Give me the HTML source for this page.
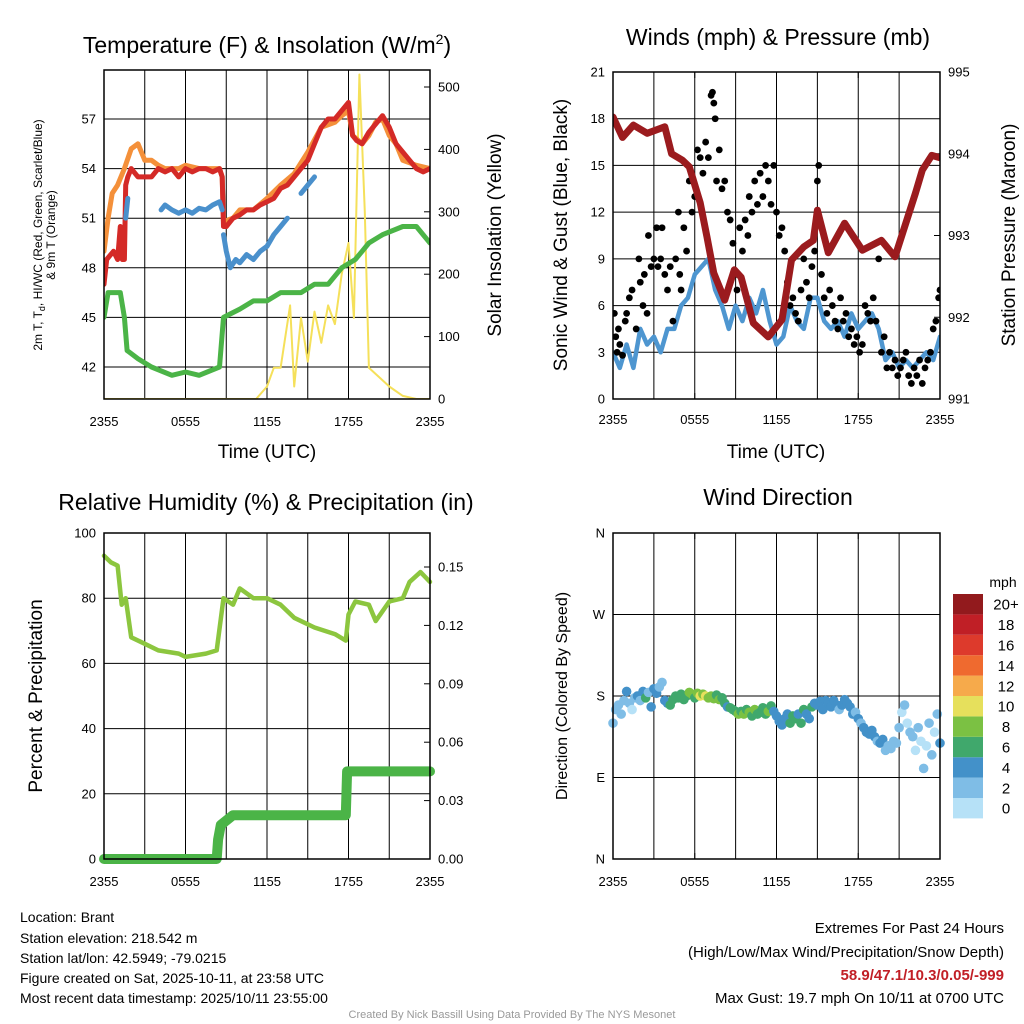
<!DOCTYPE html>
<html><head><meta charset="utf-8"><style>
html,body{margin:0;padding:0;background:#fff;width:1024px;height:1024px;overflow:hidden}
svg{display:block;font-family:"Liberation Sans",Arial,sans-serif}
</style></head><body>
<svg id="root" width="1024" height="1024" viewBox="0 0 1024 1024" xmlns="http://www.w3.org/2000/svg">
<g id="layer"></g>
<text x="267" y="53" font-size="23" text-anchor="middle">Temperature (F) &amp; Insolation (W/m<tspan dy="-9" font-size="14">2</tspan><tspan dy="9">)</tspan></text>
<text x="778" y="45" font-size="23" text-anchor="middle">Winds (mph) &amp; Pressure (mb)</text>
<text x="266" y="510" font-size="23" text-anchor="middle">Relative Humidity (%) &amp; Precipitation (in)</text>
<text x="778" y="505" font-size="23" text-anchor="middle">Wind Direction</text>
<text transform="translate(42,235) rotate(-90)" font-size="12" text-anchor="middle">2m T, T<tspan dy="3" font-size="9">d</tspan><tspan dy="-3">, HI/WC (Red, Green, Scarlet/Blue)</tspan></text>
<text transform="translate(55,235) rotate(-90)" font-size="12" text-anchor="middle">&amp; 9m T (Orange)</text>
<text transform="translate(501,235) rotate(-90)" font-size="19" text-anchor="middle">Solar Insolation (Yellow)</text>
<text x="267" y="458" font-size="19" text-anchor="middle">Time (UTC)</text>
<text x="776" y="458" font-size="19" text-anchor="middle">Time (UTC)</text>
<text transform="translate(567,235) rotate(-90)" font-size="19" text-anchor="middle">Sonic Wind &amp; Gust (Blue, Black)</text>
<text transform="translate(1015,235) rotate(-90)" font-size="19" text-anchor="middle">Station Pressure (Maroon)</text>
<text transform="translate(42,696) rotate(-90)" font-size="19" text-anchor="middle">Percent &amp; Precipitation</text>
<text transform="translate(567,696) rotate(-90)" font-size="16" text-anchor="middle">Direction (Colored By Speed)</text>
<text x="1003" y="587" font-size="14" text-anchor="middle">mph</text>
<g font-size="14">
<text x="20" y="922">Location: Brant</text>
<text x="20" y="943">Station elevation: 218.542 m</text>
<text x="20" y="963">Station lat/lon: 42.5949; -79.0215</text>
<text x="20" y="983">Figure created on Sat, 2025-10-11, at 23:58 UTC</text>
<text x="20" y="1003">Most recent data timestamp: 2025/10/11 23:55:00</text>
</g>
<g font-size="15" text-anchor="end">
<text x="1004" y="933">Extremes For Past 24 Hours</text>
<text x="1004" y="957">(High/Low/Max Wind/Precipitation/Snow Depth)</text>
<text x="1004" y="980" fill="#c11f26" font-weight="bold">58.9/47.1/10.3/0.05/-999</text>
<text x="1004" y="1003">Max Gust: 19.7 mph On 10/11 at 0700 UTC</text>
</g>
<text x="512" y="1018" font-size="11" fill="#999" text-anchor="middle">Created By Nick Bassill Using Data Provided By The NYS Mesonet</text>
</svg>
<script>
// ---- Temperature panel data ----
const redT=[0,0.2,0.4,0.7,1.0,1.2,1.35,1.5,1.6,1.75,2.0,2.5,3.0,3.5,4.0,4.5,5.0,5.5,6.0,6.5,7.0,7.5,8.0,8.5,8.7,8.8,9.0,9.5,10,10.5,11,11.5,12,12.5,13,13.5,14,14.5,15,15.5,16,16.5,17,17.5,18,18.3,18.6,19,19.5,20,20.5,21,21.5,22,22.5,23,23.5,24];
const redV=[47,48.5,48.7,49,48.5,50.5,48.5,48.5,53,53.5,54,53.5,53.5,53.5,54,53.8,54,53.5,54,53.8,54,54,53.8,54,53.5,50.5,50.5,51,51.2,51.5,51.5,51.8,52,52.2,52.8,53,53.5,54,54.5,55.5,56.5,57,57,57.5,58,56,55.7,55.5,56.2,56.7,57.2,56.5,55.5,55,54.5,54,53.8,54];
const orT=[0,0.3,0.6,1.0,1.5,2.0,2.5,3.0,3.5,4.0,4.5,5,5.5,6,7,8,8.5,8.7,8.8,9.5,10,11,12,13,14,15,16,17,17.5,18,18.3,19,19.5,20,20.5,21,21.5,22,23,24];
const orV=[49,51,52.5,53,54,55.2,55.5,54.5,54.5,54.2,54,54,54,54.2,54,54,54,53.5,50.8,51,51.5,51.5,52.2,53,53.7,55,56.5,56.8,57.2,57.5,56,55.5,56,56.8,57,56,55.5,54.5,54.2,54];
const hiT=[1.6,1.75,null,4.2,4.5,5,5.5,6,6.5,7,7.5,8,8.5,8.7,null,8.8,9,9.3,9.7,10,10.5,11,11.5,12,12.5,13,13.5,null,14.5,15,15.5];
const hiV=[51,52.2,null,51.5,51.8,51.5,51.3,51.5,51.3,51.6,51.5,51.8,52,51.5,null,50,49,48,48.5,48.3,48.8,48.5,49,49.3,50,50.5,51,null,52.5,53,53.5];
const tdT=[0,0.3,1.2,1.5,1.7,2.5,3.5,5,6,7,8.5,8.8,10,11,12,13,14.5,15.5,16.5,17.5,18.5,19,19.5,20.5,22,23,24];
const tdV=[45,46.5,46.5,45,43,42.5,42,41.5,41.7,41.5,42,45,45.5,46,46,46.5,46.5,47,47,48,48.5,49,49.5,50,50.5,50.5,49.5];
const solT=[0,11.2,12,12.5,13,13.7,14,14.5,15,15.5,16,16.5,17,17.5,18,18.4,18.8,19.2,19.5,20,21,22,23,24];
const solV=[0,0,20,50,50,150,20,130,60,140,90,150,120,200,250,130,520,300,50,40,20,5,0,0];
// ---- Winds panel data ----
const windV=[3,2,3.5,2,4.5,3.5,4,3,4.5,4.5,6,6.5,8,8.5,9,7,6,4.5,6,5,6.5,5.5,7,5,3.5,4,6,5,4.5,6.5,6.5,5,4.5,5,4,5.5,4.5,5,5.5,4.5,2.5,3,2,2.5,2,2.5,3,2.5,4];
const presT=[0,0.7,1.5,2.5,3.8,4.3,5.1,5.6,6.4,6.9,7.4,8.2,8.9,9.4,10.3,11.4,12.4,13.1,14,14.7,15,15.8,17,18.3,19.7,20.7,22.2,22.7,23.4,24];
const presV=[994.45,994.2,994.35,994.25,994.33,994.0,993.92,993.84,993.4,992.98,992.54,992.21,992.58,992.49,991.93,991.76,991.97,992.7,992.86,992.94,993.31,992.79,993.15,992.82,992.94,992.74,993.52,993.8,993.98,993.95];
const gustH=[0.1,0.2,0.3,0.4,0.5,0.7,0.9,1.0,1.2,1.4,1.7,1.9,2.0,2.2,2.3,2.5,2.6,2.8,3.0,3.2,3.3,3.5,3.6,3.8,4.0,4.2,4.4,4.6,4.8,4.9,5.0,5.2,5.4,5.6,5.8,6.0,6.2,6.4,6.6,6.8,7.0,7.2,7.3,7.4,7.5,7.6,7.8,8.0,8.2,8.4,8.6,8.8,9.0,9.1,9.3,9.5,9.7,9.9,10.0,10.2,10.4,10.6,10.8,11.0,11.2,11.4,11.6,11.8,12.0,12.2,12.4,12.6,12.8,13.0,13.2,13.4,13.6,13.8,14.0,14.2,14.4,14.6,14.8,15.0,15.1,15.3,15.5,15.7,15.9,16.1,16.3,16.5,16.7,16.9,17.1,17.3,17.5,17.7,17.9,18.1,18.3,18.5,18.7,18.9,19.1,19.3,19.5,19.7,19.9,20.1,20.3,20.5,20.7,20.9,21.1,21.3,21.5,21.7,21.9,22.1,22.3,22.5,22.7,22.9,23.1,23.3,23.5,23.7,23.9,24.0];
const gustV=[5.5,4,3,4.5,3.5,2.8,5,5.5,6.5,7,4.5,9,7.5,6,8,5.5,10.5,8.5,9,11,8.5,9,11,8,7,8.5,5,9,12,8,7,11,9.5,14,12,13,16,15.5,14.5,16.5,15.5,19.5,19.7,19,18,14,16,13.5,14,12,11.5,10,8,7,11,9.5,11.5,10.5,13,12,14,12.5,14.5,13,15,14,12.5,15,12,10.5,11,9.5,7.5,6,6.5,5.5,5,7,9,7.5,6.5,8.5,9.5,14,15,8,6.5,5.5,7,6,5,4.5,6.5,5,5.5,4,4.5,3.5,4,3,3.5,6,5.5,5,6.5,5,9,3,4,2,3,2,2.5,1.5,2,2.5,3,1.5,1,2,1.5,2.5,1,2,2.5,3,4.5,5,6.5,7];
// ---- Humidity panel data ----
const rhT=[0,0.5,1,1.3,1.6,2,3,4,5.5,6,7.5,8.3,8.8,9.5,10,11,12,13,14,15.5,17,17.8,18,18.5,19.5,20,21,22,22.5,23.3,24];
const rhV=[93,91,90,78,80,68,66,64,63,62,63,64,80,78,83,80,80,78,74,71,69,67,75,79,78,73,79,80,85,88,85];
const prT=[0,8.3,8.4,8.6,9.5,17.8,17.9,24];
const prV=[0,0,0.01,0.0175,0.0225,0.0225,0.045,0.045];
// ---- Wind direction data ----
const dirH=[0,0.2,0.4,0.6,0.8,1.0,1.2,1.4,1.6,1.8,2.0,2.2,2.4,2.6,2.8,3.0,3.2,3.4,3.6,3.8,4.0,4.2,4.4,4.6,4.8,5.0,5.2,5.4,5.6,5.8,6.0,6.2,6.4,6.6,6.8,7.0,7.2,7.4,7.6,7.8,8.0,8.2,8.4,8.6,8.8,9.0,9.2,9.4,9.6,9.8,10.0,10.2,10.4,10.6,10.8,11.0,11.2,11.4,11.6,11.8,12.0,12.2,12.4,12.6,12.8,13.0,13.2,13.4,13.6,13.8,14.0,14.2,14.4,14.6,14.8,15.0,15.2,15.4,15.6,15.8,16.0,16.2,16.4,16.6,16.8,17.0,17.2,17.4,17.6,17.8,18.0,18.2,18.4,18.6,18.8,19.0,19.2,19.4,19.6,19.8,20.0,20.2,20.4,20.6,20.8,21.0,21.2,21.4,21.6,21.8,22.0,22.2,22.4,22.6,22.8,23.0,23.2,23.4,23.6,23.8,24.0];
const dirD=[150,165,170,160,175,185,172,165,178,180,175,185,178,184,168,188,183,190,195,175,172,170,176,180,178,182,176,180,184,182,178,183,180,182,180,178,180,177,181,176,178,172,168,167,165,163,160,163,160,165,162,158,165,160,162,167,160,163,169,163,158,152,148,155,160,150,158,155,160,150,165,160,155,168,172,170,174,165,175,172,168,175,170,165,170,176,172,168,160,162,155,150,145,140,138,142,135,130,128,132,120,125,122,130,128,145,162,170,150,140,135,120,145,130,100,125,150,115,140,160,128];
const dirS=[2,3,2,2,3,4,2,1,2,4,3,4,6,3,4,4,4,2,2,4,4,6,6,6,6,7,6,7,8,8,7,8,10,9,10,8,9,8,6,8,6,6,4,6,6,6,8,6,8,6,8,6,8,6,6,6,6,8,6,4,4,4,4,4,4,6,6,6,4,6,6,4,4,6,4,4,4,4,4,4,4,4,4,3,4,4,4,4,4,3,4,3,4,4,4,4,4,3,4,4,2,3,2,3,2,2,1,2,1,2,2,1,2,1,2,1,2,2,1,3,4];
const cbLabels=["0","2","4","6","8","10","12","14","16","18","20+"];
const cbColors=["#b6e1f7","#7fbde6","#4391c9","#40a86c","#7bc143","#e6e05c","#f6aa4b","#ef6a2f","#dd3a2c","#c01f26","#921a1d"];
const timeLabels=["2355","0555","1155","1755","2355"];

const NS="http://www.w3.org/2000/svg";
const layer=document.getElementById('layer');
function mk(tag,attrs,parent){const e=document.createElementNS(NS,tag);for(const k in attrs)e.setAttribute(k,attrs[k]);(parent||layer).appendChild(e);return e;}
function lin(d0,d1,r0,r1){return v=>r0+(v-d0)*(r1-r0)/(d1-d0);}
function pathFrom(ts,vs,sx,sy){let d="",pen=false;for(let i=0;i<ts.length;i++){if(ts[i]===null||vs[i]===null){pen=false;continue;}d+=(pen?"L":"M")+sx(ts[i]).toFixed(1)+","+sy(vs[i]).toFixed(1);pen=true;}return d;}

function frame(x0,x1,y0,y1,name,lo){
  const g=mk('g',{});
  
  
  const sx=lin(0,24,x0,x1);
  for(let h=3;h<24;h+=3){const l=mk('line',{x1:sx(h),x2:sx(h),y1:y0,y2:y1,stroke:'#000','stroke-width':1},g);}
  for(let i=0;i<timeLabels.length;i++){const x=sx(i*6);
    const t=mk('text',{x:x,y:y1+lo,'font-size':13,'text-anchor':'middle'},g);t.textContent=timeLabels[i];
    
    mk('line',{x1:x,x2:x,y1:y1,y2:y1-6,stroke:'#000'},g);mk('line',{x1:x,x2:x,y1:y0,y2:y0+6,stroke:'#000'},g);}
  return {g,sx};
}
function hgrid(g,vals,sy,x0,x1,side,fmt){
  for(const v of vals){const y=sy(v);
    const l=mk('line',{x1:x0,x2:x1,y1:y,y2:y,stroke:'#000','stroke-width':1},g);
    const t=mk('text',{x:x0-8,y:y+4.5,'font-size':13,'text-anchor':'end'},g);t.textContent=fmt(v);}
}
function rticks(g,vals,sy,x1,fmt){
  for(const v of vals){const y=sy(v);mk('line',{x1:x1,x2:x1-6,y1:y,y2:y,stroke:'#000'},g);
    const t=mk('text',{x:x1+8,y:y+4.5,'font-size':13},g);t.textContent=fmt(v);}
}
function border(g,x0,x1,y0,y1){const r=mk('rect',{x:x0,y:y0,width:x1-x0,height:y1-y0,fill:'none',stroke:'#000','stroke-width':1.5},g);}
function series(g,d,color,w,name){const p=mk('path',{d:d,fill:'none',stroke:color,'stroke-width':w,'stroke-linejoin':'round','stroke-linecap':'round'},g);return p;}

// Panel 1
(function(){const x0=104,x1=430,y0=70,y1=399;const {g,sx}=frame(x0,x1,y0,y1,'temperature-panel',27);
  const sy=lin(42,57,367,119);const sr=lin(0,500,399,87);
  hgrid(g,[42,45,48,51,54,57],sy,x0,x1,'l',v=>v);
  rticks(g,[0,100,200,300,400,500],sr,x1,v=>v);
  const clip=mk('clipPath',{id:'c1'},g);mk('rect',{x:x0,y:y0,width:x1-x0,height:y1-y0},clip);
  const s=mk('g',{'clip-path':'url(#c1)'},g);
  series(s,pathFrom(solT,solV,sx,sr),'#f5e05a',2,'insolation-line');
  series(s,pathFrom(tdT,tdV,sx,sy),'#4bb447',5,'dewpoint-line');
  series(s,pathFrom(orT,orV,sx,sy),'#f4903a',5,'temp-9m-line');
  series(s,pathFrom(redT,redV,sx,sy),'#d42a27',5,'temp-2m-line');
  series(s,pathFrom(hiT,hiV,sx,sy),'#4a90cc',5,'heat-index-windchill-line');
  border(g,x0,x1,y0,y1);})();

// Panel 2
(function(){const x0=613,x1=940,y0=72,y1=399;const {g,sx}=frame(x0,x1,y0,y1,'winds-panel',25);
  const sy=lin(0,21,399,72);const sp=lin(991,995,399,72);
  hgrid(g,[0,3,6,9,12,15,18,21],sy,x0,x1,'l',v=>v);
  rticks(g,[991,992,993,994,995],sp,x1,v=>v);
  const clip=mk('clipPath',{id:'c2'},g);mk('rect',{x:x0,y:y0,width:x1-x0,height:y1-y0},clip);
  const s=mk('g',{'clip-path':'url(#c2)'},g);
  const wt=windV.map((v,i)=>i*0.5);
  series(s,pathFrom(wt,windV,sx,sy),'#4e96d0',4.5,'sonic-wind-line');
  for(let i=0;i<gustH.length;i++){const c=mk('circle',{cx:sx(gustH[i]),cy:sy(gustV[i]),r:3.4,fill:'#000'},s);
    }
  series(s,pathFrom(presT,presV,sx,sp),'#9b1b1e',7,'pressure-line');
  border(g,x0,x1,y0,y1);})();

// Panel 3
(function(){const x0=104,x1=430,y0=533,y1=859;const {g,sx}=frame(x0,x1,y0,y1,'humidity-panel',27);
  const sy=lin(0,100,859,533);const sr=lin(0,0.15,859,567);
  hgrid(g,[0,20,40,60,80,100],sy,x0,x1,'l',v=>v);
  rticks(g,[0,0.03,0.06,0.09,0.12,0.15],sr,x1,v=>v.toFixed(2));
  series(g,pathFrom(prT,prV,sx,sr),'#4bb447',10,'precipitation-line');
  series(g,pathFrom(rhT,rhV,sx,sy),'#8cc63f',4.5,'relative-humidity-line');
  border(g,x0,x1,y0,y1);})();

// Panel 4
(function(){const x0=613,x1=940,y0=533,y1=859;const {g,sx}=frame(x0,x1,y0,y1,'wind-direction-panel',27);
  const sy=lin(0,360,859,533);const lab=["N","E","S","W","N"];
  hgrid(g,[0,90,180,270,360],sy,x0,x1,'l',v=>lab[v/90]);
  for(let i=0;i<dirH.length;i++){const b=Math.min(10,Math.floor(dirS[i]/2));
    const c=mk('circle',{cx:sx(dirH[i]),cy:sy(dirD[i]),r:4.8,fill:cbColors[b]},g);
    }
  border(g,x0,x1,y0,y1);
  const cb=mk('g',{},g);
  const bh=20.4,top=594;
  for(let i=0;i<cbColors.length;i++){const y=top+(10-i)*bh;
    const r=mk('rect',{x:953,y:y,width:30,height:bh,fill:cbColors[i]},cb);
    
    const t=mk('text',{x:1006,y:y+bh/2+5.5,'font-size':15,'text-anchor':'middle'},cb);t.textContent=cbLabels[i];
    }
})();
</script>
</body></html>
